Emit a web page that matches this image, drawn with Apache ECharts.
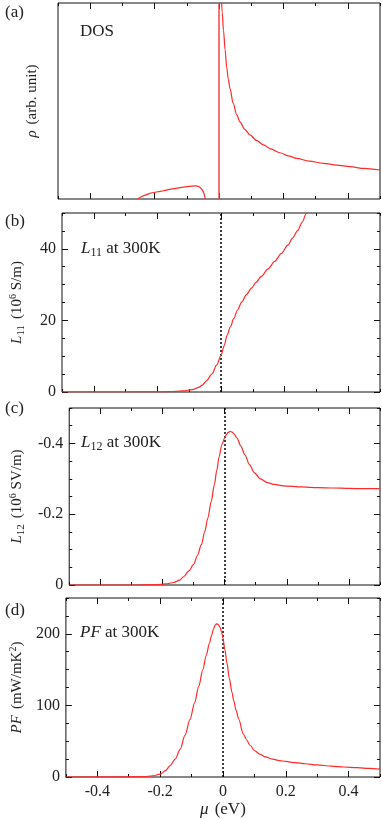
<!DOCTYPE html>
<html>
<head>
<meta charset="utf-8">
<script src="https://cdn.jsdelivr.net/npm/echarts@6/dist/echarts.min.js"></script>
<style>html,body{margin:0;padding:0;background:#fff}#c{width:382px;height:819px}</style>
</head>
<body>
<div id="c"></div>
<script>
// ---- data ----
// x: chemical potential mu (eV)
const xMajorTicks = [-0.4, -0.2, 0, 0.2, 0.4];

// (a) DOS, arbitrary units
const dosLeftX  = [-0.252, -0.24, -0.214, -0.19, -0.173, -0.15, -0.121, -0.1, -0.085, -0.072, -0.064, -0.058, -0.054, -0.05, -0.047, -0.044, -0.043];
const dosLeftY  = [0, 0.013, 0.029, 0.037, 0.042, 0.05, 0.058, 0.063, 0.066, 0.067, 0.064, 0.058, 0.05, 0.04, 0.029, 0.012, 0];
const dosDeltaX = [0, 0];
const dosDeltaY = [0, 1];
const dosRightX = [0.007, 0.01, 0.014, 0.019, 0.024, 0.029, 0.034, 0.044, 0.055, 0.065, 0.08, 0.096, 0.117, 0.138, 0.16, 0.189, 0.215, 0.241, 0.28, 0.324, 0.365, 0.407, 0.45, 0.5];
const dosRightY = [1.05, 0.95, 0.86, 0.76, 0.67, 0.61, 0.565, 0.488, 0.43, 0.394, 0.355, 0.327, 0.298, 0.276, 0.256, 0.236, 0.22, 0.207, 0.193, 0.182, 0.173, 0.165, 0.156, 0.148];

// (b) L11 (10^6 S/m)
const l11X = [-0.5, -0.3, -0.2, -0.16, -0.12, -0.09, -0.07, -0.059, -0.045, -0.028, -0.014, 0, 0.01, 0.019, 0.03, 0.04, 0.052, 0.065, 0.08, 0.096, 0.11, 0.127, 0.148, 0.169, 0.19, 0.21, 0.225, 0.241, 0.255, 0.269, 0.28];
const l11Y = [0, 0, 0.02, 0.08, 0.3, 0.67, 1.3, 1.9, 3.2, 5.1, 7.5, 10.2, 12.9, 15.8, 18.3, 20.5, 22.9, 25.1, 27.2, 29.0, 30.6, 32.3, 34.4, 36.5, 38.7, 41.0, 43.0, 45.1, 47.4, 50.0, 51.8];
const l11Ticks = [0, 20, 40];

// (c) L12 (10^6 SV/m), negative
const l12X = [-0.5, -0.3, -0.22, -0.19, -0.163, -0.145, -0.131, -0.115, -0.1, -0.087, -0.075, -0.064, -0.054, -0.043, -0.033, -0.025, -0.018, -0.009, 0, 0.006, 0.011, 0.018, 0.024, 0.03, 0.04, 0.052, 0.065, 0.08, 0.096, 0.115, 0.138, 0.16, 0.189, 0.25, 0.3, 0.35, 0.4, 0.45, 0.5];
const l12Y = [0, 0, -0.001, -0.003, -0.007, -0.014, -0.024, -0.04, -0.058, -0.084, -0.114, -0.15, -0.189, -0.236, -0.283, -0.325, -0.361, -0.396, -0.415, -0.425, -0.431, -0.434, -0.432, -0.427, -0.415, -0.393, -0.368, -0.34, -0.317, -0.3, -0.289, -0.284, -0.28, -0.277, -0.275, -0.274, -0.273, -0.272, -0.272];
const l12Ticks = [-0.4, -0.2, 0];

// (d) PF (mW/mK^2)
const pfX = [-0.5, -0.3, -0.25, -0.224, -0.2, -0.183, -0.168, -0.152, -0.136, -0.121, -0.105, -0.09, -0.077, -0.064, -0.053, -0.043, -0.036, -0.03, -0.025, -0.021, -0.015, -0.009, -0.004, 0, 0.006, 0.013, 0.02, 0.029, 0.034, 0.042, 0.05, 0.065, 0.075, 0.087, 0.1, 0.117, 0.135, 0.158, 0.18, 0.2, 0.23, 0.262, 0.3, 0.345, 0.385, 0.428, 0.465, 0.5];
const pfY = [0, 0.2, 0.6, 1.5, 4, 9, 16, 25, 39, 58, 80, 104, 127, 150, 170, 187, 198, 207, 212, 214, 213, 209, 202, 194, 178, 159, 138, 118, 107, 93, 81, 60, 52, 44, 37, 32, 28, 25, 23, 21.7, 20, 18.5, 17, 15.2, 14, 13, 12, 11];
const pfTicks = [0, 100, 200];

// ---- helpers ----
const zip = (xs, ys) => xs.map((x, i) => [x, ys[i]]);
const FONT = 'Liberation Serif';
const INK = '#222';
const RED = '#ff2a2a';
function makeRich(size, subSize) {
  return {
    i:   {fontFamily: FONT, fontStyle: 'italic', fontSize: size, color: INK, lineHeight: size + 4},
    n:   {fontFamily: FONT, fontSize: size, color: INK, lineHeight: size + 4},
    sub: {fontFamily: FONT, fontSize: subSize, color: INK, lineHeight: subSize, verticalAlign: 'bottom'},
    sup: {fontFamily: FONT, fontSize: subSize - 1, color: INK, lineHeight: subSize, verticalAlign: 'top'}
  };
}
const rich = makeRich(17, 12);
const nameRich = makeRich(15, 11);
const xNameRich = makeRich(17, 12);

const grids = [
  {left: 58, right: 2, top: 3,   height: 196},
  {left: 58, right: 2, top: 213, height: 179},
  {left: 58, right: 2, top: 408, height: 177},
  {left: 58, right: 2, top: 598, height: 179}
].map(g => Object.assign(g, {show: true, borderColor: '#111', borderWidth: 1, backgroundColor: 'transparent'}));

const xAxis = [];
const yAxis = [];
const tickLine = {color: '#111', width: 1};
const noLine = {show: false, onZero: false};
function addX(g, withLabels) {
  const base = {gridIndex: g, type: 'value', min: -0.5, max: 0.5, axisLine: noLine, splitLine: {show: false}};
  const idx = xAxis.length;
  xAxis.push(Object.assign({}, base, {
    position: 'bottom',
    axisTick: {inside: true, length: 6, lineStyle: tickLine, customValues: xMajorTicks},
    axisLabel: withLabels ? {show: true, customValues: xMajorTicks, margin: 7, fontFamily: FONT, fontSize: 16, color: INK,
      formatter: v => (Math.abs(v) < 1e-9 ? '0' : String(+v.toFixed(1)))} : {show: false},
    name: withLabels ? '{i|μ}  {n|(eV)}' : '',
    nameLocation: 'middle', nameGap: 22,
    nameTextStyle: {rich: xNameRich, fontFamily: FONT}
  }));
  xAxis.push(Object.assign({}, base, {position: 'bottom', interval: 0.1,
    axisTick: {inside: true, length: 3, lineStyle: tickLine}, axisLabel: {show: false}}));
  xAxis.push(Object.assign({}, base, {position: 'top',
    axisTick: {inside: true, length: 6, lineStyle: tickLine, customValues: xMajorTicks}, axisLabel: {show: false}}));
  xAxis.push(Object.assign({}, base, {position: 'top', interval: 0.1,
    axisTick: {inside: true, length: 3, lineStyle: tickLine}, axisLabel: {show: false}}));
  return idx;
}
function addY(g, opt) {
  const base = {gridIndex: g, type: 'value', min: opt.min, max: opt.max, inverse: !!opt.inverse,
    axisLine: noLine, splitLine: {show: false}};
  const idx = yAxis.length;
  yAxis.push(Object.assign({}, base, {
    position: 'left',
    axisTick: opt.major ? {inside: true, length: 6, lineStyle: tickLine, customValues: opt.major} : {show: false},
    axisLabel: opt.major ? {show: true, customValues: opt.major, margin: 6, fontFamily: FONT, fontSize: 16, color: INK,
      formatter: v => (Math.abs(v) < 1e-9 ? '0' : String(+v.toFixed(2)))} : {show: false},
    name: opt.name, nameLocation: 'middle', nameRotate: 90, nameGap: opt.nameGap,
    nameTextStyle: {rich: nameRich, fontFamily: FONT}
  }));
  if (opt.major) {
    yAxis.push(Object.assign({}, base, {position: 'left', interval: opt.minor,
      axisTick: {inside: true, length: 3, lineStyle: tickLine}, axisLabel: {show: false}}));
    yAxis.push(Object.assign({}, base, {position: 'right',
      axisTick: {inside: true, length: 6, lineStyle: tickLine, customValues: opt.major}, axisLabel: {show: false}}));
    yAxis.push(Object.assign({}, base, {position: 'right', interval: opt.minor,
      axisTick: {inside: true, length: 3, lineStyle: tickLine}, axisLabel: {show: false}}));
  }
  return idx;
}

const xa = addX(0, false), ya = addY(0, {min: 0, max: 1, name: '{i|ρ}  {n|(arb. unit)}', nameGap: 16});
const xb = addX(1, false), yb = addY(1, {min: 0, max: 50, major: l11Ticks, minor: 5, name: '{i|L}{sub|11}  {n|(10}{sup|6}{n| S/m)}', nameGap: 35});
const xc = addX(2, false), yc = addY(2, {min: -0.5, max: 0, inverse: true, major: l12Ticks, minor: 0.05, name: '{i|L}{sub|12}  {n|(10}{sup|6}{n| SV/m)}', nameGap: 35});
const xd = addX(3, true),  yd = addY(3, {min: 0, max: 250, major: pfTicks, minor: 25, name: '{i|PF}  {n|(mW/mK}{sup|2}{n|)}', nameGap: 36});

const dotted = {
  silent: true, symbol: ['none', 'none'], label: {show: false},
  lineStyle: {color: '#000', type: [2, 2], width: 1.5}, data: [{xAxis: 0}], animation: false
};
const lineBase = {type: 'line', showSymbol: false, symbol: 'none', lineStyle: {color: RED, width: 1.2}, animation: false, z: 5};
const smoothLine = Object.assign({}, lineBase, {smooth: 0.3, smoothMonotone: 'x'});

const series = [
  Object.assign({}, lineBase, {xAxisIndex: xa, yAxisIndex: ya, data: zip(dosLeftX, dosLeftY), smooth: 0.2}),
  Object.assign({}, lineBase, {xAxisIndex: xa, yAxisIndex: ya, data: zip(dosDeltaX, dosDeltaY), lineStyle: {color: 'rgba(240,70,70,0.75)', width: 2}}),
  Object.assign({}, smoothLine, {xAxisIndex: xa, yAxisIndex: ya, data: zip(dosRightX, dosRightY)}),
  Object.assign({}, smoothLine, {xAxisIndex: xb, yAxisIndex: yb, data: zip(l11X, l11Y), markLine: dotted}),
  Object.assign({}, smoothLine, {xAxisIndex: xc, yAxisIndex: yc, data: zip(l12X, l12Y), markLine: dotted}),
  Object.assign({}, smoothLine, {xAxisIndex: xd, yAxisIndex: yd, data: zip(pfX, pfY), markLine: dotted})
];

const tStyle = {rich: rich, fontFamily: FONT, fontSize: 17, fontWeight: 'normal', color: INK};
const mkTitle = (text, left, top) => ({text: text, left: left, top: top, padding: 0, textStyle: tStyle});
const title = [
  mkTitle('{n|(a)}', 5, 2),
  mkTitle('{n|DOS}', 80, 21),
  mkTitle('{n|(b)}', 5, 211),
  mkTitle('{i|L}{sub|11}{n| at 300K}', 81, 238),
  mkTitle('{n|(c)}', 5, 398),
  mkTitle('{i|L}{sub|12}{n| at 300K}', 81, 432),
  mkTitle('{n|(d)}', 5, 600),
  mkTitle('{i|PF}{n| at 300K}', 80, 622)
];

const chart = echarts.init(document.getElementById('c'), null, {renderer: 'canvas'});
chart.setOption({animation: false, backgroundColor: '#fff', title, grid: grids, xAxis, yAxis, series});
</script>
</body>
</html>
